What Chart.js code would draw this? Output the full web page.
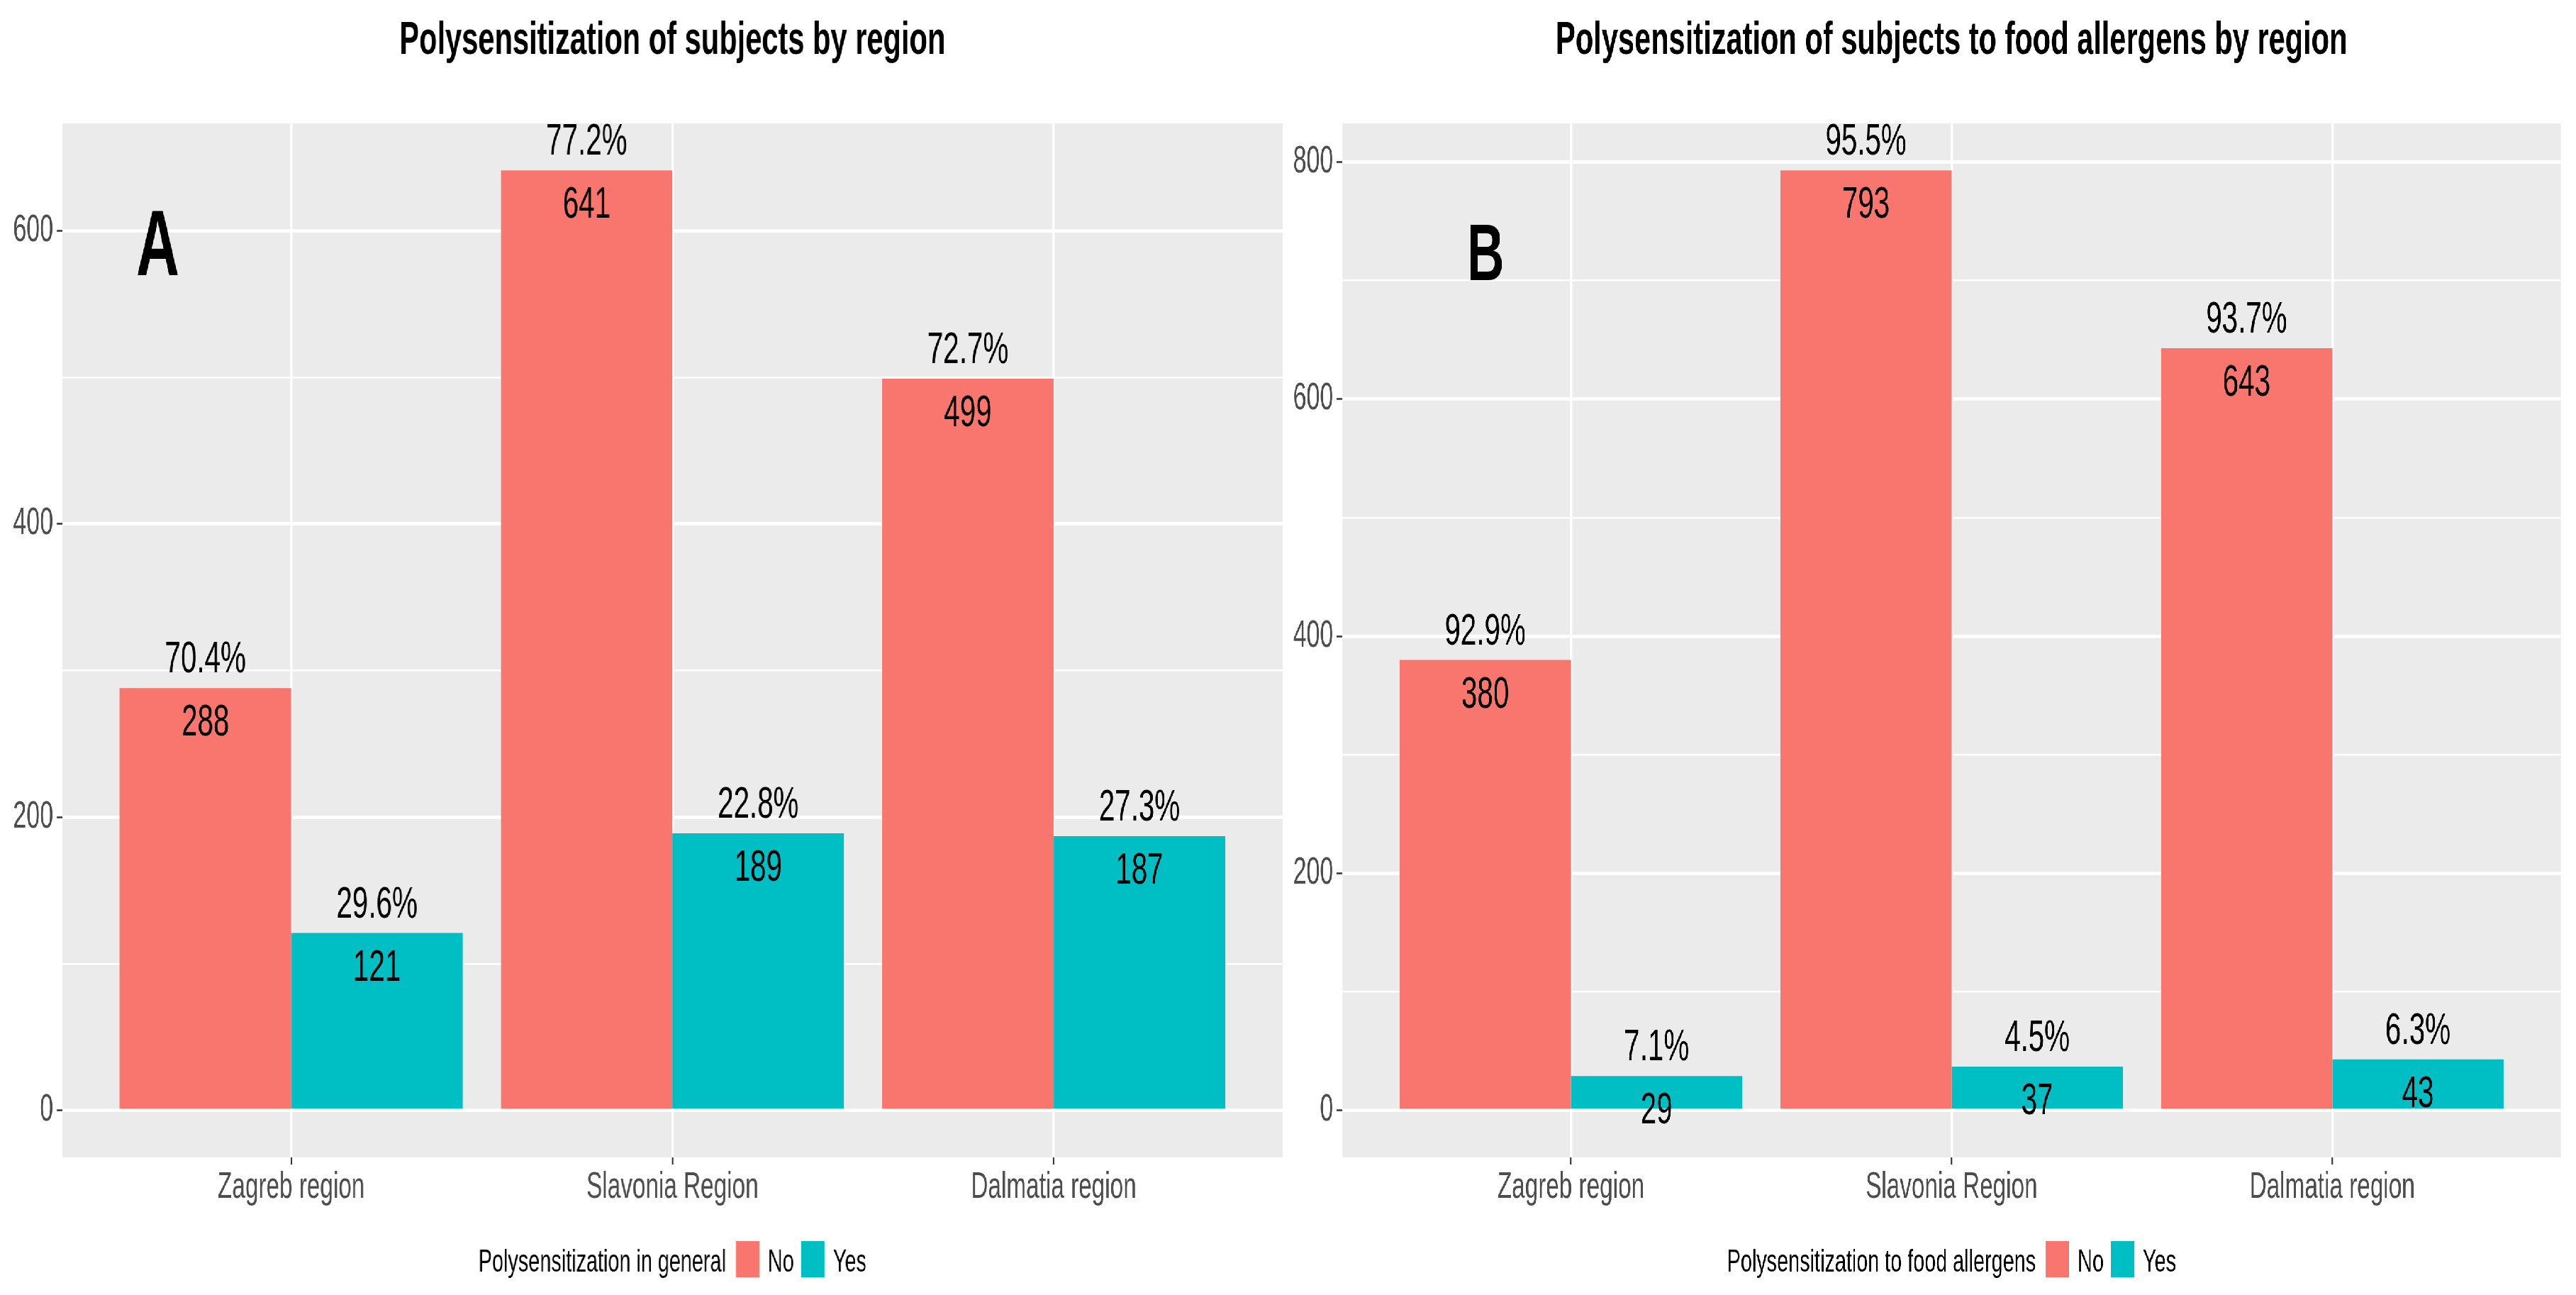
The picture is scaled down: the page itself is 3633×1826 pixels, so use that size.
<!DOCTYPE html>
<html>
<head>
<meta charset="utf-8">
<script src="https://cdn.jsdelivr.net/npm/chart.js@4.4.1/dist/chart.umd.min.js"></script>
<style>
html,body{margin:0;padding:0;background:#ffffff;overflow:hidden;width:3633px;height:1826px;}
#wrap{position:absolute;left:0;top:0;height:1826px;transform-origin:0 0;}
.pane{position:absolute;top:0;height:1826px;}
</style>
</head>
<body>
<div id="wrap">
  <div class="pane" id="paneA"><canvas id="chartA"></canvas></div>
  <div class="pane" id="paneB"><canvas id="chartB"></canvas></div>
</div>
<script>
// ---------- data ----------
const categories = ['Zagreb region', 'Slavonia Region', 'Dalmatia region'];
const seriesNames = ['No', 'Yes'];

const generalNo = [288, 641, 499];
const generalYes = [121, 189, 187];
const generalNoPct = ['70.4%', '77.2%', '72.7%'];
const generalYesPct = ['29.6%', '22.8%', '27.3%'];

const foodNo = [380, 793, 643];
const foodYes = [29, 37, 43];
const foodNoPct = ['92.9%', '95.5%', '93.7%'];
const foodYesPct = ['7.1%', '4.5%', '6.3%'];

const yTickStep = 100;   // minor grid step
const yLabelStep = 200;  // labelled major ticks

const titleA = 'Polysensitization of subjects by region';
const titleB = 'Polysensitization of subjects to food allergens by region';
const legendTitleA = 'Polysensitization in general';
const legendTitleB = 'Polysensitization to food allergens';

// ---------- look ----------
const S = 0.64;                 // horizontal condensing of the whole figure
const FONT = '"Liberation Sans", Arial, Helvetica, sans-serif';
const RED = '#F8766D', TEAL = '#00BFC4';
const W = 3633, H = 1826;

const wrap = document.getElementById('wrap');
wrap.style.width = (W / S) + 'px';
wrap.style.transform = 'scaleX(' + S + ')';
const paneA = document.getElementById('paneA');
const paneB = document.getElementById('paneB');
paneA.style.left = '0px';
paneA.style.width = (1816 / S) + 'px';
paneB.style.left = (1816 / S) + 'px';
paneB.style.width = (1817 / S) + 'px';

const panelBg = {
  id: 'panelBg',
  beforeDraw(chart) {
    const {ctx, chartArea: a} = chart;
    ctx.save();
    ctx.fillStyle = '#FFFFFF';
    ctx.fillRect(0, 0, chart.width, chart.height);
    ctx.fillStyle = '#EBEBEB';
    ctx.fillRect(a.left, a.top, a.right - a.left, a.bottom - a.top);
    ctx.restore();
  }
};

const barLabels = {
  id: 'barLabels',
  afterDatasetsDraw(chart, args, opts) {
    const ctx = chart.ctx;
    ctx.save();
    ctx.fillStyle = '#000000';
    ctx.font = '63px ' + FONT;
    ctx.textAlign = 'center';
    ctx.textBaseline = 'alphabetic';
    chart.data.datasets.forEach((ds, di) => {
      const meta = chart.getDatasetMeta(di);
      meta.data.forEach((bar, i) => {
        ctx.fillText(opts.pct[di][i], bar.x, bar.y - 22);
        ctx.fillText(String(ds.data[i].y), bar.x, bar.y + 67);
      });
    });
    ctx.restore();
  }
};

const panelLetter = {
  id: 'panelLetter',
  afterDatasetsDraw(chart, args, opts) {
    const ctx = chart.ctx;
    ctx.save();
    ctx.fillStyle = '#000000';
    ctx.font = 'bold ' + opts.size + 'px ' + FONT;
    ctx.textAlign = 'center';
    ctx.textBaseline = 'middle';
    const x = chart.scales.x.getPixelForValue(opts.x);
    const y = chart.scales.y.getPixelForValue(opts.y);
    ctx.fillText(opts.text, x, y);
    ctx.restore();
  }
};

const ggLegend = {
  id: 'ggLegend',
  afterDraw(chart, args, opts) {
    const ctx = chart.ctx;
    const a = chart.chartArea;
    ctx.save();
    ctx.font = '45px ' + FONT;
    ctx.textBaseline = 'alphabetic';
    ctx.textAlign = 'left';
    const box = 33 / S, gapTitle = 14 / S, gapBox = 12 / S, gapItem = 10 / S;
    const tw = ctx.measureText(opts.title).width;
    const items = chart.data.datasets.map(ds => ({text: ds.label, color: ds.backgroundColor, w: ctx.measureText(ds.label).width}));
    let total = tw + gapTitle;
    items.forEach((it, i) => { total += box + gapBox + it.w + (i < items.length - 1 ? gapItem : 0); });
    let x = (a.left + a.right) / 2 - total / 2;
    const baseline = 1793, boxTop = 1750, boxH = 51;
    ctx.fillStyle = '#000000';
    ctx.fillText(opts.title, x, baseline);
    x += tw + gapTitle;
    items.forEach((it, i) => {
      ctx.fillStyle = it.color;
      ctx.fillRect(x, boxTop, box, boxH);
      x += box + gapBox;
      ctx.fillStyle = '#000000';
      ctx.fillText(it.text, x, baseline);
      x += it.w + gapItem;
    });
    ctx.restore();
  }
};

function makePanel(canvasId, noVals, yesVals, noPct, yesPct, title, legendTitle, yAxisW, rightPad, letter) {
  const vmax = Math.max(...noVals, ...yesVals);
  const isMajor = c => c.tick && c.tick.value % yLabelStep === 0;
  return new Chart(document.getElementById(canvasId), {
    type: 'bar',
    data: {
      datasets: [
        {label: seriesNames[0], data: noVals.map((v, i) => ({x: i + 1, y: v})), backgroundColor: RED,
         categoryPercentage: 0.9, barPercentage: 1.0, borderWidth: 0},
        {label: seriesNames[1], data: yesVals.map((v, i) => ({x: i + 1, y: v})), backgroundColor: TEAL,
         categoryPercentage: 0.9, barPercentage: 1.0, borderWidth: 0}
      ]
    },
    options: {
      responsive: true,
      maintainAspectRatio: false,
      animation: false,
      devicePixelRatio: 1,
      events: [],
      layout: {padding: {left: 0, right: rightPad / S, top: 0, bottom: 94}},
      plugins: {
        legend: {display: false},
        tooltip: {enabled: false},
        title: {
          display: true, text: title, fullSize: false, color: '#000000',
          font: {family: FONT, size: 65, weight: 'bold', lineHeight: 1.2},
          padding: {top: 19, bottom: 77}
        },
        barLabels: {pct: [noPct, yesPct]},
        panelLetter: letter,
        ggLegend: {title: legendTitle}
      },
      scales: {
        x: {
          type: 'linear', min: 0.4, max: 3.6, offset: false,
          afterBuildTicks: s => { s.ticks = categories.map((c, i) => ({value: i + 1})); },
          afterFit: s => { s.height = 100; },
          ticks: {
            autoSkip: false, maxRotation: 0, minRotation: 0, padding: 1,
            color: '#4D4D4D', font: {family: FONT, size: 52},
            callback: v => categories[Math.round(v) - 1] || ''
          },
          grid: {offset: false, color: '#FFFFFF', lineWidth: 3.5 / S, tickColor: '#333333', tickWidth: 2 / S, tickLength: 10},
          border: {display: false}
        },
        y: {
          min: -0.05 * vmax, max: 1.05 * vmax,
          afterBuildTicks: s => {
            const t = [];
            for (let v = 0; v <= s.max; v += yTickStep) t.push({value: v});
            s.ticks = t;
          },
          afterFit: s => { s.width = yAxisW / S; },
          ticks: {
            autoSkip: false, padding: 5 / S,
            color: '#4D4D4D', font: {family: FONT, size: 53},
            callback: v => (v % yLabelStep === 0 ? String(v) : '')
          },
          grid: {
            offset: false,
            color: '#FFFFFF',
            lineWidth: c => (isMajor(c) ? 5 : 2.5),
            tickColor: c => (isMajor(c) ? '#333333' : 'rgba(0,0,0,0)'),
            tickWidth: 2.5, tickLength: 8 / S
          },
          border: {display: false}
        }
      }
    },
    plugins: [panelBg, barLabels, panelLetter, ggLegend]
  });
}

makePanel('chartA', generalNo, generalYes, generalNoPct, generalYesPct, titleA, legendTitleA,
  88, 8, {text: 'A', x: 0.65, y: 587, size: 132});
makePanel('chartB', foodNo, foodYes, foodNoPct, foodYesPct, titleB, legendTitleB,
  77, 22, {text: 'B', x: 0.776, y: 719, size: 114});
</script>
</body>
</html>
